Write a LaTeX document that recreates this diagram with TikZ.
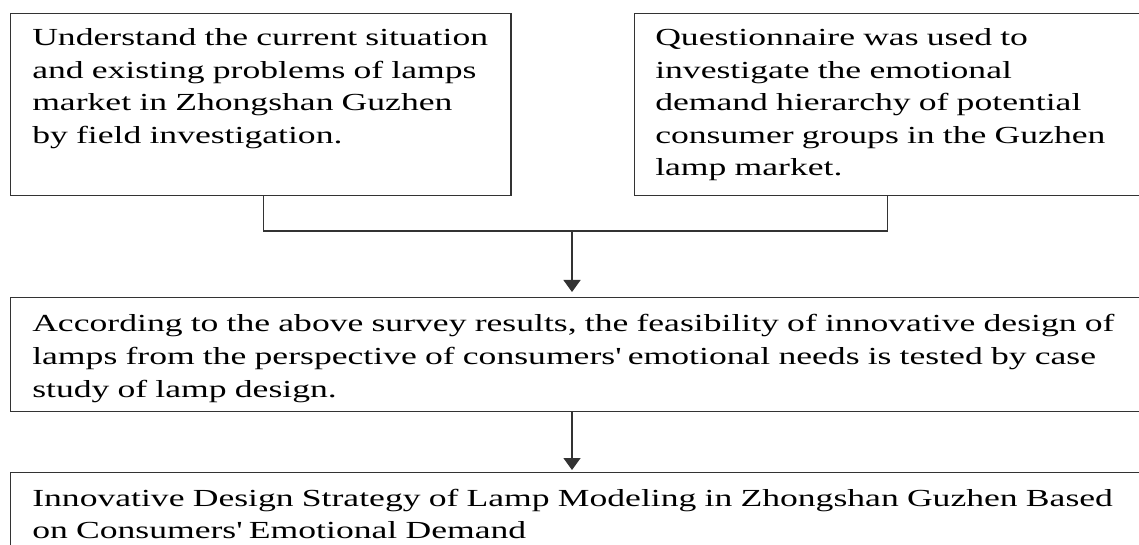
\documentclass[tikz,border=0pt]{standalone}
\usepackage{fontspec}
\setmainfont{Liberation Serif}[FakeStretch=1.452]
\usetikzlibrary{arrows.meta}
\begin{document}
\begin{tikzpicture}[x=0.75pt, y=-0.75pt,
  boxnode/.style={draw=black!80, line width=1.1pt, rectangle, inner sep=0pt, anchor=north west},
  txt/.style={anchor=base west, inner sep=0pt, align=left, text width=820pt,
    font=\fontsize{18.4pt}{24.4pt}\selectfont},
  conn/.style={draw=black!80, line width=1.1pt},
  arr/.style={conn, -{Triangle[width=12.75pt, length=9pt]}}]
\clip (0,0) rectangle (1139,545);
\fill[white] (0,0) rectangle (1139,545);
% boxes
\node[boxnode, minimum width=375.4pt, minimum height=136.5pt] (a) at (9.5,13) {};
\node[boxnode, minimum width=379.5pt, minimum height=136.5pt] (b) at (634,13) {};
\node[boxnode, minimum width=855pt, minimum height=85.5pt] (c) at (9.5,297) {};
\node[boxnode, minimum width=855pt, minimum height=80pt] (d) at (9.5,472) {};
% texts
\node[txt] (ta) at (32,45.7) {Understand the current situation\\and existing problems of lamps\\market in Zhongshan Guzhen\\by field investigation.};
\node[txt] (tb) at (655,45.7) {Questionnaire was used to\\investigate the emotional\\demand hierarchy of potential\\consumer groups in the Guzhen\\lamp market.};
\node[txt] (tc) at (32,332) {According to the above survey results, the feasibility of innovative design of\\lamps from the perspective of consumers\textquotesingle\ emotional needs is tested by case\\study of lamp design.};
\node[txt] (td) at (32,506) {Innovative Design Strategy of Lamp Modeling in Zhongshan Guzhen Based\\on Consumers\textquotesingle\ Emotional Demand};
% connectors
\coordinate (j) at (572,231);
\draw[conn] ([xshift=2.4pt]a.south) |- (j) -| (b.south);
\draw[arr, shorten >=3.75pt] (j) -- (c.north -| j);
\draw[arr, shorten >=1.5pt] (c.south -| j) -- (d.north -| j);
\end{tikzpicture}
\end{document}
